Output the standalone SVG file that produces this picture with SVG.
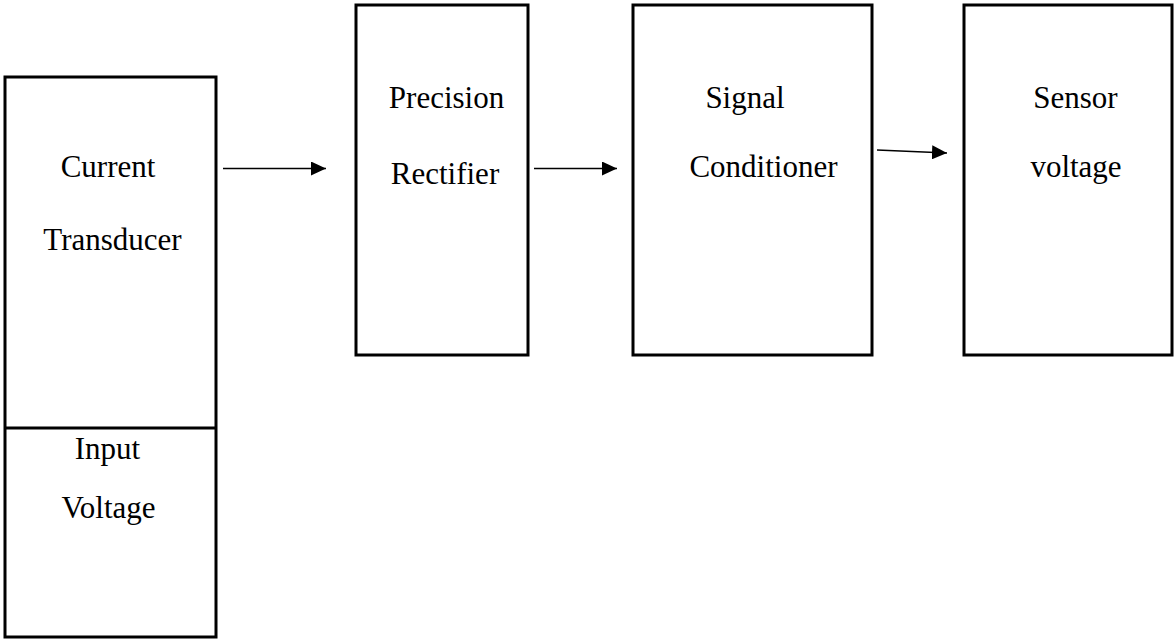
<svg xmlns="http://www.w3.org/2000/svg" width="1174" height="640" viewBox="0 0 1174 640">
<style>
.box{fill:#fff;stroke:#000;stroke-width:3}
.lbl{font-family:"Liberation Serif","Times New Roman",serif;font-size:31px;fill:#000;text-anchor:middle}
.conn{stroke:#000;stroke-width:1.6;fill:none}
</style>
<defs>
<marker id="ah" markerUnits="userSpaceOnUse" markerWidth="16" markerHeight="14" refX="15" refY="7" orient="auto">
<path d="M0,0 L15,7 L0,14 Z" fill="#000"/>
</marker>
</defs>
<rect width="1174" height="640" fill="#fff"/>
<g id="current-transducer">
<rect class="box" x="5" y="77" width="211" height="560"/>
<line x1="5" y1="428" x2="216" y2="428" stroke="#000" stroke-width="3"/>
<text class="lbl" x="108" y="177">Current</text>
<text class="lbl" x="112.5" y="250">Transducer</text>
</g>
<g id="input-voltage">
<text class="lbl" x="107.5" y="459">Input</text>
<text class="lbl" x="108.5" y="518">Voltage</text>
</g>
<g id="precision-rectifier">
<rect class="box" x="356" y="5" width="172" height="350"/>
<text class="lbl" x="446.5" y="108">Precision</text>
<text class="lbl" x="445" y="184">Rectifier</text>
</g>
<g id="signal-conditioner">
<rect class="box" x="633" y="5" width="239" height="350"/>
<text class="lbl" x="745" y="108">Signal</text>
<text class="lbl" x="763.5" y="177">Conditioner</text>
</g>
<g id="sensor-voltage">
<rect class="box" x="964" y="5" width="208" height="350"/>
<text class="lbl" x="1075.5" y="108">Sensor</text>
<text class="lbl" x="1076" y="177">voltage</text>
</g>
<g id="connectors">
<line class="conn" x1="223" y1="168.5" x2="326" y2="168.5" marker-end="url(#ah)"/>
<line class="conn" x1="534" y1="168.5" x2="617" y2="168.5" marker-end="url(#ah)"/>
<line class="conn" x1="877" y1="150" x2="947" y2="153" marker-end="url(#ah)"/>
</g>
</svg>
